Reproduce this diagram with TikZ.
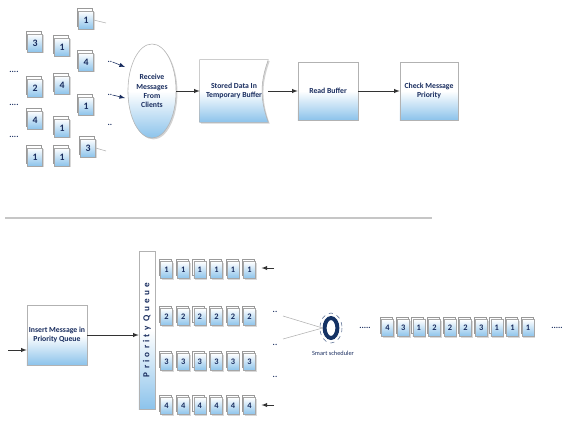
\documentclass[tikz,border=0pt]{standalone}
\usepackage{fontspec}
\setmainfont{Carlito}
\usetikzlibrary{shapes.geometric,shadows,backgrounds}

\definecolor{navy}{RGB}{25,45,95}
\definecolor{boxblue}{RGB}{140,195,235}
\definecolor{ringblue}{RGB}{20,50,100}

\begin{document}
\begin{tikzpicture}[x=0.025cm, y=-0.025cm,
    proc/.style={draw=gray!60, top color=white, bottom color=boxblue, middle color=white,
        minimum width=1.5cm, minimum height=1.45cm, align=center, inner sep=1pt,
        text=navy, font=\fontsize{5.5}{6.5}\selectfont\bfseries,
        drop shadow={opacity=0.35, shadow xshift=1pt, shadow yshift=-1pt}},
    msg/.style={draw=gray!70, top color=white, bottom color=boxblue, inner sep=0pt,
        minimum width=0.37cm, minimum height=0.45cm, text=navy,
        font=\fontsize{7}{7}\selectfont\bfseries,
        copy shadow={shadow xshift=-0.8pt, shadow yshift=2pt, fill=white, draw=gray!80},
        drop shadow={opacity=0.3, shadow xshift=1pt, shadow yshift=-1pt}},
    qmsg/.style={msg, minimum width=0.3cm, minimum height=0.42cm,
        font=\fontsize{6}{6}\selectfont\bfseries},
    dots/.style={text=navy, font=\fontsize{6}{6}\selectfont\bfseries, inner sep=0pt},
    link/.style={-latex, gray!40!black, thin},
    ]

    \useasboundingbox (0,0) rectangle (567,422);

    % messages from clients
    \foreach \x/\y/\n [count=\i] in {35/43/3, 35/88/2, 35/120/4, 35/157/1,
                                     62/47/1, 62/85/4, 62/128/1, 62/157/1,
                                     86/20/1, 86/62/4, 86/106/1, 88/148/3}
        \node [msg] (m\i) at (\x,\y) {\n};

    \node [dots] (l1) at (14,72) {....};
    \node [dots] (l2) at (14,105) {....};
    \node [dots] (l3) at (14,137) {....};

    \node [dots] (r1) at (110,62) {..};
    \node [dots] (r2) at (110,95) {..};
    \node [dots] (r3) at (110,125) {..};

    \coordinate (t1) at (106,23);
    \coordinate (t2) at (106,151);
    \draw [gray!60] (m9.east) -- (t1);
    \draw [gray!60] (m12.east) -- (t2);

    \coordinate (h1) at (125,67);
    \coordinate (h2) at (125,98);
    \draw [-latex, navy, thin] (r1.east) -- (h1);
    \draw [-latex, navy, thin] (r2.east) -- (h2);

    % top flow
    \node [proc, ellipse, minimum width=1.05cm, minimum height=2.35cm] (rcv) at (152,91)
        {Receive\\Messages\\From\\Clients};
    \node [align=center, inner sep=1pt, text=navy, font=\fontsize{5.5}{6.5}\selectfont\bfseries,
        minimum width=1.7cm, minimum height=1.55cm] (buf) at (234,91)
        {Stored Data In\\Temporary Buffer};
    \begin{scope}[on background layer]
        \path [draw=gray!60, top color=white, bottom color=boxblue, middle color=white,
            drop shadow={opacity=0.35, shadow xshift=1pt, shadow yshift=-1pt}]
            (buf.north west) -- (buf.north east) to [bend right=20] (buf.south east)
            -- (buf.south west) -- cycle;
    \end{scope}
    \node [proc] (rd) at (328,91) {Read Buffer};
    \node [proc, minimum width=1.45cm] (chk) at (429,91) {Check Message\\Priority};

    \draw [link] (rcv) -- (buf);
    \draw [link] (buf) -- (rd);
    \draw [link] (rd) -- (chk);

    % separator
    \draw [gray!45, line width=1.5pt] (5,218) -- (432,218);

    % priority queue
    \node [proc, minimum height=1.5cm] (ins) at (57,335) {Insert Message in\\Priority Queue};
    \coordinate (in) at (8,350);
    \draw [link] (in) -- (in -| ins.west);

    \node [proc, rotate=90, minimum width=3.95cm, minimum height=0.4cm, inner sep=0pt,
        font=\fontsize{6.5}{7}\selectfont\bfseries\addfontfeature{LetterSpace=35}]
        (pq) at (147,330) {Priority Queue};
    \draw [link] (ins.east) -- (ins.east -| pq.north);

    \foreach \r/\y in {1/270, 2/317, 3/362, 4/406}
        \foreach \c in {1,...,6}
            \node [qmsg] (q\r\c) at ({150+16.6*\c},\y) {\r};

    \coordinate (e1) at (274,268);
    \coordinate (e4) at (274,405);
    \draw [link, shorten >=4pt] (e1) -- (e1 -| q16.east);
    \draw [link, shorten >=4pt] (e4) -- (e4 -| q46.east);

    \node [dots] (p1) at (275,312) {..};
    \node [dots] (p2) at (275,345) {..};
    \node [dots] (p3) at (275,377) {..};

    % scheduler
    \node [ellipse, draw=ringblue, line width=2.8pt, fill=white, minimum width=0.32cm,
        minimum height=0.5cm, inner sep=0pt] (sch) at (331,328) {};
    \draw [ringblue!70, dashed, thin] (sch.center) ellipse [x radius=11, y radius=15];
    \node [text=navy, font=\fontsize{4.5}{5}\selectfont] (schlbl) at (333,353) {Smart scheduler};

    \coordinate (c1) at (283,316);
    \coordinate (c2) at (283,339);
    \draw [gray!60, thin] (c1) -- (sch.west);
    \draw [gray!60, thin] (c2) -- (sch.west);

    % served messages
    \node [dots] (s0) at (365,328) {.....};
    \foreach \n [count=\i] in {4,3,1,2,2,2,3,1,1,1}
        \node [qmsg] (o\i) at ({372+15.6*\i},328) {\n};
    \node [dots] (s1) at (557,328) {.....};

\end{tikzpicture}
\end{document}
